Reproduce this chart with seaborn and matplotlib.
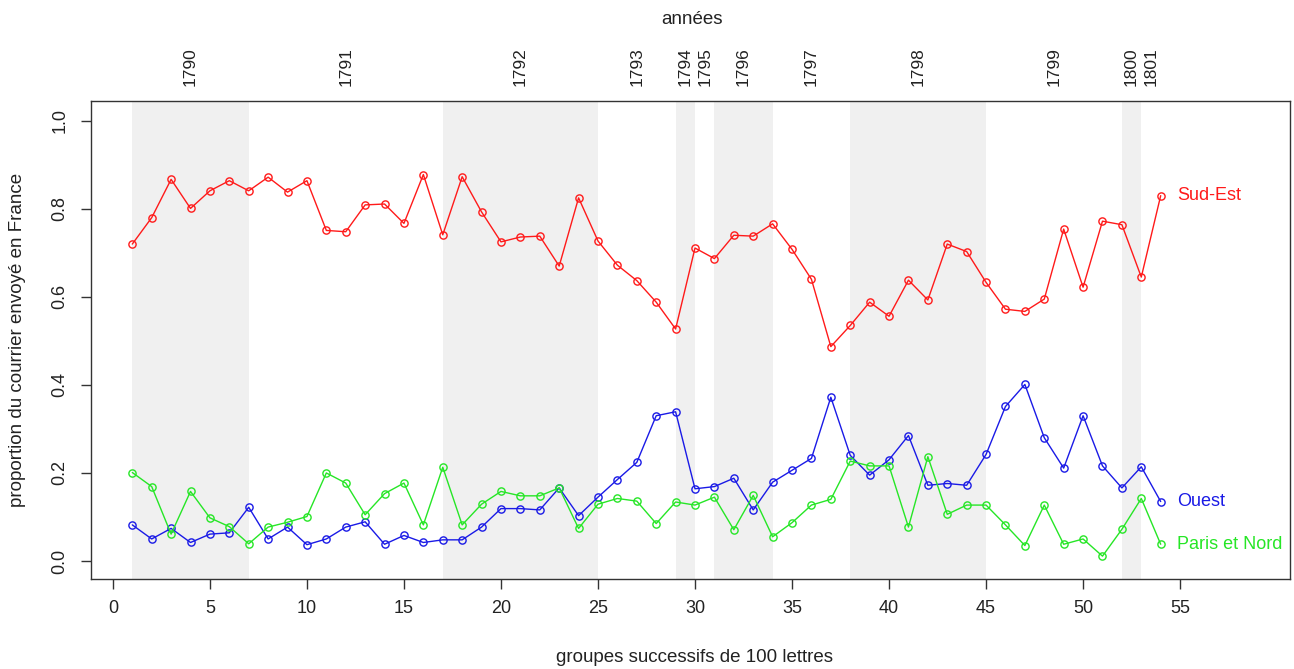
import pandas as pd
import matplotlib.pyplot as plt
import seaborn as sns

# valeurs (groupes de 100 lettres)
groupes = list(range(1, 55))
sud_est = [0.720, 0.780, 0.867, 0.801, 0.841, 0.864, 0.841, 0.872, 0.838, 0.864,
           0.751, 0.748, 0.809, 0.811, 0.767, 0.878, 0.741, 0.873, 0.793, 0.725,
           0.736, 0.738, 0.670, 0.825, 0.727, 0.672, 0.637, 0.588, 0.527, 0.711,
           0.687, 0.740, 0.738, 0.766, 0.708, 0.640, 0.487, 0.535, 0.588, 0.556,
           0.638, 0.593, 0.720, 0.703, 0.633, 0.572, 0.567, 0.595, 0.754, 0.622,
           0.772, 0.764, 0.645, 0.830]
ouest = [0.082, 0.050, 0.074, 0.042, 0.061, 0.064, 0.122, 0.050, 0.077, 0.037,
         0.050, 0.077, 0.089, 0.038, 0.058, 0.042, 0.048, 0.048, 0.077, 0.119,
         0.119, 0.116, 0.166, 0.103, 0.145, 0.185, 0.224, 0.330, 0.339, 0.164,
         0.169, 0.188, 0.116, 0.179, 0.206, 0.233, 0.372, 0.240, 0.195, 0.230,
         0.285, 0.172, 0.176, 0.172, 0.242, 0.351, 0.401, 0.280, 0.211, 0.330,
         0.216, 0.166, 0.214, 0.135]
paris_nord = [0.201, 0.169, 0.061, 0.158, 0.098, 0.078, 0.039, 0.077, 0.088, 0.101,
              0.200, 0.177, 0.105, 0.153, 0.177, 0.082, 0.213, 0.082, 0.129, 0.158,
              0.148, 0.148, 0.166, 0.074, 0.129, 0.142, 0.136, 0.085, 0.134, 0.127,
              0.145, 0.071, 0.149, 0.055, 0.087, 0.127, 0.140, 0.227, 0.216, 0.216,
              0.077, 0.237, 0.106, 0.127, 0.127, 0.082, 0.035, 0.127, 0.038, 0.050,
              0.011, 0.072, 0.142, 0.038]

regions = ['Sud-Est', 'Ouest', 'Paris et Nord']
couleurs = ['#ff1a1a', '#1a1ae6', '#26e626']

# années : début et fin (en groupes) de chaque année
annees = ['1790', '1791', '1792', '1793', '1794', '1795', '1796', '1797',
          '1798', '1799', '1800', '1801']
bornes = [1, 7, 17, 25, 29, 30, 31, 34, 38, 45, 52, 53, 54]

df = pd.DataFrame({
    'groupe': groupes * 3,
    'proportion': sud_est + ouest + paris_nord,
    'region': [r for r in regions for _ in groupes],
})

sns.set_style('white')
plt.rcParams['font.family'] = ['Liberation Sans', 'DejaVu Sans']

fig = plt.figure(figsize=(12.94, 6.69), dpi=100)
ax = fig.add_axes([0.0703, 0.1345, 0.9267, 0.7145])

# bandes grises une année sur deux
for i in range(0, len(annees), 2):
    ax.axvspan(bornes[i], bornes[i + 1], color='#f0f0f0', lw=0, zorder=0)

sns.lineplot(data=df, x='groupe', y='proportion', hue='region',
             palette=dict(zip(regions, couleurs)), marker='o', markersize=5.2,
             markerfacecolor='none', markeredgewidth=1.0, lw=1.0,
             legend=False, ax=ax, zorder=3)
for line, c in zip(ax.get_lines(), couleurs):
    line.set_markeredgecolor(c)

# étiquettes des séries
derniers = [sud_est[-1], ouest[-1], paris_nord[-1]]
for r, c, v in zip(regions, couleurs, derniers):
    ax.text(54.85, v, r, color=c, fontsize=13, ha='left', va='center')

# années sur l'axe du haut
for i, a in enumerate(annees):
    milieu = (bornes[i] + bornes[i + 1]) / 2
    ax.text(milieu, 1.031, a, rotation=90, ha='center', va='bottom',
            fontsize=12.5, color='#222222',
            transform=ax.get_xaxis_transform())
fig.text(0.535, 1 - 20 / 669, 'années', ha='center', va='center',
         fontsize=13.5, color='#222222')

ax.set_xlim(-1.13, 60.67)
ax.set_ylim(-0.041, 1.045)
ax.set_xticks(range(0, 60, 5))
ax.set_yticks([0.0, 0.2, 0.4, 0.6, 0.8, 1.0])
ax.set_yticklabels(['0.0', '0.2', '0.4', '0.6', '0.8', '1.0'])
ax.tick_params(axis='both', direction='out', length=7, width=1,
               colors='#333333', labelcolor='#222222', labelsize=13, pad=8)
ax.tick_params(axis='y', labelrotation=90, pad=9)
for lab in ax.get_yticklabels():
    lab.set_verticalalignment('center')
ax.tick_params(axis='both', left=True, bottom=True)

for s in ax.spines.values():
    s.set_color('#333333')
    s.set_linewidth(1.0)

ax.set_xlabel('')
ax.set_ylabel('')
fig.text(0.5365, 1 - 657 / 669, 'groupes successifs de 100 lettres',
         ha='center', va='center', fontsize=13.5, color='#222222')
fig.text(18 / 1294, 1 - 340 / 669, 'proportion du courrier envoyé en France',
         rotation=90, ha='center', va='center', fontsize=13.5, color='#222222')

fig.savefig('out.png', dpi=100)
